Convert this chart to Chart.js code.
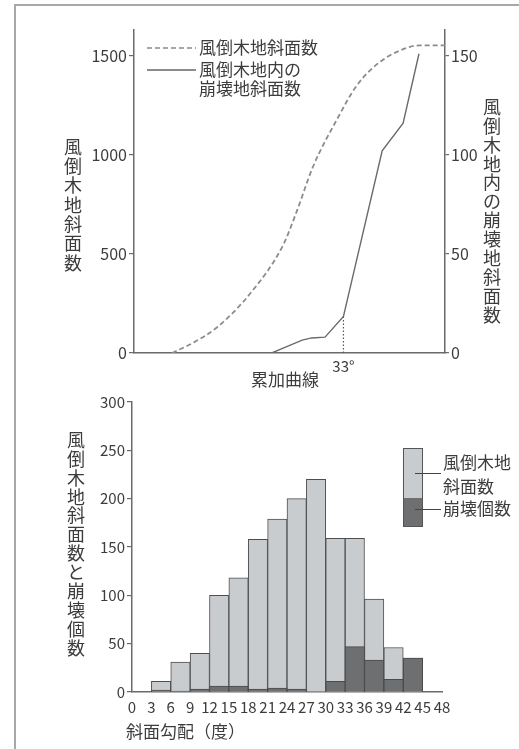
<!DOCTYPE html>
<html>
<head>
<meta charset="utf-8">
<script src="https://cdn.jsdelivr.net/npm/chart.js@4/dist/chart.umd.min.js"></script>
<style>
  html, body { margin: 0; padding: 0; background: #fff; }
  body { width: 519px; height: 749px; position: relative; overflow: hidden; }
  #frame { position: absolute; left: 14px; top: 4px; width: 520px; height: 760px;
           border-left: 2px solid #a8a8a8; border-top: 2px solid #a8a8a8; }
  #c1wrap { position: absolute; left: 0; top: 0; width: 519px; height: 390px; }
  #c2wrap { position: absolute; left: 0; top: 390px; width: 519px; height: 359px; }
</style>
</head>
<body>
<div id="frame"></div>
<div id="c1wrap"><canvas id="c1" width="519" height="390"></canvas></div>
<div id="c2wrap"><canvas id="c2" width="519" height="359"></canvas></div>
<script>
// ---------- DATA ----------
// Bottom histogram: slope bins (degrees, start of each 3° bin)
const binStarts = [0, 3, 6, 9, 12, 15, 18, 21, 24, 27, 30, 33, 36, 39, 42];
// 風倒木地斜面数 per bin
const slopeCounts = [0, 11, 31, 40, 100, 118, 158, 179, 200, 220, 159, 159, 96, 46, 35];
// 崩壊個数 per bin
const collapseCounts = [0, 2, 1, 3, 6, 6, 3, 4, 3, 0, 11, 47, 33, 13, 35];

// Top cumulative curves (x = slope in degrees)
const cumSlopeDeg = [6.0, 9.5, 13.1, 18.3, 23.5, 25.7, 28.2, 32.0, 35.1, 38.8, 43.5, 45.1, 49];
const cumSlopeVals = [0, 55, 130, 300, 545, 720, 940, 1180, 1350, 1470, 1545, 1552, 1552];
const cumCollapseDeg = [21.7, 23.5, 25.0, 26.5, 28.0, 30.1, 33.0, 39.1, 42.4, 44.9];
const cumCollapseVals = [0, 2.5, 4.5, 6.5, 7.6, 8.0, 18.5, 102, 116, 151];
const markDeg = 33;

const leftTicksTop = [0, 500, 1000, 1500];
const rightTicksTop = [0, 50, 100, 150];
const leftTicksBottom = [0, 50, 100, 150, 200, 250, 300];

// ---------- STYLE ----------
const FONT = '"Noto Sans CJK JP", "Noto Sans", sans-serif';
const TXT = '#3c3c3c';
const AX = '#6a6a6a';

function drawVertical(ctx, text, x, y0, step, size) {
  ctx.save();
  ctx.font = size + 'px ' + FONT;
  ctx.fillStyle = TXT;
  ctx.textAlign = 'center';
  ctx.textBaseline = 'middle';
  [...text].forEach((ch, i) => ctx.fillText(ch, x, y0 + i * step));
  ctx.restore();
}
function drawText(ctx, text, x, y, size, align) {
  ctx.save();
  ctx.font = size + 'px ' + FONT;
  ctx.fillStyle = TXT;
  ctx.textAlign = align || 'left';
  ctx.textBaseline = 'middle';
  ctx.fillText(text, x, y);
  ctx.restore();
}

// ---------- TOP CHART ----------
const markY = cumCollapseVals[cumCollapseDeg.indexOf(markDeg)];

const topDecor = {
  id: 'topDecor',
  afterDraw(chart) {
    const ctx = chart.ctx;
    // legend
    ctx.save();
    ctx.strokeStyle = '#8a8a8a';
    ctx.lineWidth = 1.5;
    ctx.setLineDash([5, 3]);
    ctx.beginPath(); ctx.moveTo(147, 48); ctx.lineTo(196, 48); ctx.stroke();
    ctx.setLineDash([]);
    ctx.strokeStyle = '#666';
    ctx.beginPath(); ctx.moveTo(147, 70); ctx.lineTo(196, 70); ctx.stroke();
    ctx.restore();
    drawText(ctx, '風倒木地斜面数', 199, 48, 17);
    drawText(ctx, '風倒木地内の', 199, 70, 17);
    drawText(ctx, '崩壊地斜面数', 199, 89, 17);
    // axis titles
    drawVertical(ctx, '風倒木地斜面数', 73, 147, 19.3, 18);
    drawVertical(ctx, '風倒木地内の崩壊地斜面数', 492, 107, 18.9, 18);
    drawText(ctx, '累加曲線', 285, 380, 17, 'center');
  }
};

new Chart(document.getElementById('c1'), {
  type: 'line',
  data: {
    datasets: [
      {
        label: '風倒木地斜面数',
        data: cumSlopeDeg.map((d, i) => ({ x: d, y: cumSlopeVals[i] })),
        yAxisID: 'y',
        borderColor: '#8c8c8c',
        borderWidth: 1.8,
        borderDash: [5, 3],
        pointRadius: 0,
        cubicInterpolationMode: 'monotone',
        fill: false
      },
      {
        label: '風倒木地内の崩壊地斜面数',
        data: cumCollapseDeg.map((d, i) => ({ x: d, y: cumCollapseVals[i] })),
        yAxisID: 'y2',
        borderColor: '#6a6a6a',
        borderWidth: 1.4,
        pointRadius: 0,
        tension: 0,
        fill: false
      },
      {
        label: 'mark',
        data: [{ x: markDeg, y: 0 }, { x: markDeg, y: markY }],
        yAxisID: 'y2',
        borderColor: '#555',
        borderWidth: 1.2,
        borderDash: [1.5, 2],
        pointRadius: 0,
        fill: false
      }
    ]
  },
  options: {
    responsive: false,
    animation: false,
    events: [],
    layout: { padding: { top: 30, left: 0, right: 0, bottom: 0 } },
    plugins: { legend: { display: false }, tooltip: { enabled: false } },
    scales: {
      x: {
        type: 'linear',
        min: 0, max: 49,
        afterFit: s => { s.height = 37; },
        afterBuildTicks: s => { s.ticks = [{ value: markDeg }]; },
        grid: { display: false, drawTicks: false },
        border: { display: true, color: AX, width: 1.5 },
        ticks: { color: TXT, padding: 4, font: { size: 15, family: FONT }, callback: v => v + '°' }
      },
      y: {
        type: 'linear', position: 'left',
        min: 0, max: 1630,
        afterFit: s => { s.width = 134; },
        afterBuildTicks: s => { s.ticks = leftTicksTop.map(v => ({ value: v })); },
        grid: { drawOnChartArea: false, drawTicks: true, tickLength: 5, color: AX, lineWidth: 1.2 },
        border: { display: true, color: AX, width: 1.5 },
        ticks: { color: TXT, padding: 2, font: { size: 16, family: FONT }, callback: v => String(v) }
      },
      y2: {
        type: 'linear', position: 'right',
        min: 0, max: 163,
        afterFit: s => { s.width = 74; },
        afterBuildTicks: s => { s.ticks = rightTicksTop.map(v => ({ value: v })); },
        grid: { drawOnChartArea: false, drawTicks: true, tickLength: 4, color: AX, lineWidth: 1.2 },
        border: { display: true, color: AX, width: 1.5 },
        ticks: { color: TXT, padding: 2, font: { size: 16, family: FONT }, callback: v => String(v) }
      }
    }
  },
  plugins: [topDecor]
});

// ---------- BOTTOM CHART ----------
const OFF = 390;
const bottomDecor = {
  id: 'bottomDecor',
  afterDraw(chart) {
    const ctx = chart.ctx;
    // legend box
    ctx.save();
    ctx.fillStyle = '#c9cccf';
    ctx.fillRect(403, 448 - OFF, 20, 50);
    ctx.fillStyle = '#6e6f71';
    ctx.fillRect(403, 498 - OFF, 20, 29);
    ctx.strokeStyle = '#555';
    ctx.lineWidth = 1;
    ctx.strokeRect(403.5, 448.5 - OFF, 19, 78);
    ctx.strokeStyle = '#444';
    ctx.beginPath();
    ctx.moveTo(415, 473.5 - OFF); ctx.lineTo(441, 473.5 - OFF);
    ctx.moveTo(415, 509.5 - OFF); ctx.lineTo(441, 509.5 - OFF);
    ctx.stroke();
    ctx.restore();
    drawText(ctx, '風倒木地', 443, 463 - OFF, 17);
    drawText(ctx, '斜面数', 443, 487 - OFF, 17);
    drawText(ctx, '崩壊個数', 443, 509 - OFF, 17);
    // axis titles
    drawVertical(ctx, '風倒木地斜面数と崩壊個数', 76, 440 - OFF, 18.9, 18);
    drawText(ctx, '斜面勾配（度）', 126, 732 - OFF, 17);
  }
};

new Chart(document.getElementById('c2'), {
  type: 'bar',
  data: {
    datasets: [
      {
        label: '崩壊個数',
        data: binStarts.map((b, i) => ({ x: b + 1.5, y: collapseCounts[i] })),
        backgroundColor: '#6e6f71',
        borderColor: '#4a4a4a',
        borderWidth: 1,
        barPercentage: 1, categoryPercentage: 1,
        grouped: false,
        order: 0
      },
      {
        label: '風倒木地斜面数',
        data: binStarts.map((b, i) => ({ x: b + 1.5, y: slopeCounts[i] })),
        backgroundColor: '#c9cccf',
        borderColor: '#4e4e4e',
        borderWidth: 1,
        barPercentage: 1, categoryPercentage: 1,
        grouped: false,
        order: 1
      }
    ]
  },
  options: {
    responsive: false,
    animation: false,
    events: [],
    layout: { padding: { top: 12, left: 0, right: 77, bottom: 0 } },
    plugins: { legend: { display: false }, tooltip: { enabled: false } },
    scales: {
      x: {
        type: 'linear',
        min: 0, max: 48,
        offset: false,
        afterFit: s => { s.height = 57; },
        grid: { display: false, drawTicks: false },
        border: { display: true, color: AX, width: 1.5 },
        ticks: { stepSize: 3, autoSkip: false, maxRotation: 0, color: TXT, padding: 6,
                 font: { size: 15, family: FONT } }
      },
      y: {
        type: 'linear', position: 'left',
        min: 0, max: 300,
        afterFit: s => { s.width = 132; },
        afterBuildTicks: s => { s.ticks = leftTicksBottom.map(v => ({ value: v })); },
        grid: { drawOnChartArea: false, drawTicks: true, tickLength: 5, color: AX, lineWidth: 1.2 },
        border: { display: true, color: AX, width: 1.5 },
        ticks: { color: TXT, padding: 2, font: { size: 15, family: FONT } }
      }
    }
  },
  plugins: [bottomDecor]
});
</script>
</body>
</html>
